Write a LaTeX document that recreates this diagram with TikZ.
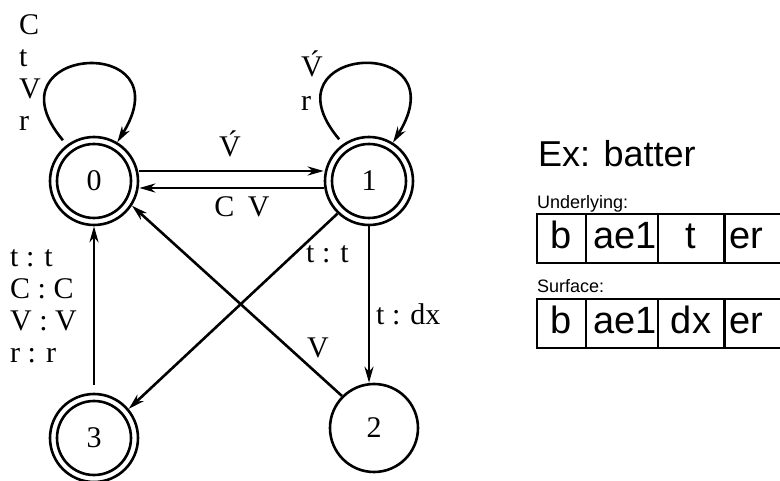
\documentclass[tikz,border=0pt]{standalone}
\usepackage{fontspec}
\setmainfont{Liberation Serif}
\newfontfamily\sansf{Liberation Sans}
\usetikzlibrary{arrows.meta}
\begin{document}
\begin{tikzpicture}[x=1pt,y=-1pt,
  every node/.style={inner sep=0pt},
  lbl/.style={font=\fontsize{30}{31.7}\selectfont},
  stateb/.style={circle,draw,line width=2.6pt,minimum size=88pt,inner sep=0pt,font=\fontsize{30}{32}\selectfont},
  acc/.style={path picture={\draw[line width=2.6pt] (path picture bounding box.center) circle[radius=37pt];}},
  arr/.style={line width=2.6pt,-{Stealth[length=16pt,width=9pt,inset=5pt]}},
  loopstyle/.style={arr,shorten <=6pt},
  cell/.style={draw,line width=1.5pt,minimum height=49pt,text height=25pt,text depth=5pt,font=\sansf\fontsize{38}{38}\selectfont},
  ]
\useasboundingbox (0,0) rectangle (780,481);
\clip (0,0) rectangle (780,481);

% states
\node[stateb,acc] (s0) at (94,181) {0};
\node[stateb,acc] (s1) at (369,181) {1};
\node[stateb] (s2) at (374,428) {2};
\node[stateb,acc] (s3) at (94,438) {3};

% loops
\draw[loopstyle] (s0.127) to[out=130,in=58,distance=130pt] (s0.59);
\draw[loopstyle] (s1.125) to[out=130,in=58,distance=130pt] (s1.58);

% edges
\draw[arr] ([yshift=10pt]s0.east) -- ([yshift=10pt]s1.west);
\draw[arr] ([yshift=-7pt]s1.west) -- ([yshift=-7pt]s0.east);
\draw[arr,shorten <=8pt] (s3.north) -- (s0.south);
\draw[arr] (s1.226) -- (s3.40);
\draw[arr] (s2.135) -- (s0.-33);
\draw[arr] (s1.south) -- (s1.south |- s2.north);

% labels
\node[lbl,anchor=base] (l01) at (230,157) {\'V};
\node[lbl,anchor=base] (l10) at (242,217) {C\hspace{0.45em}V};
\node[lbl,anchor=base west] (l12) at (376,325) {t : dx};
\node[lbl,anchor=base west] (l13) at (306,263) {t : t};
\node[lbl,anchor=base west] (l20) at (307,358) {V};
\node[lbl,anchor=base west] (l30) at (10,267) {\begin{tabular}[t]{@{}l@{}}t : t\\C : C\\V : V\\r : r\end{tabular}};
\node[lbl,anchor=base west] (l00) at (19,35) {\begin{tabular}[t]{@{}l@{}}C\\t\\V\\r\end{tabular}};
\node[lbl,anchor=base west] (l11) at (301,77) {\begin{tabular}[t]{@{}l@{}}\'V\\[2.3pt]r\end{tabular}};

% example
\node[font=\sansf\fontsize{36}{36}\selectfont,anchor=base west] (title) at (538,167) {Ex: batter};
\node[font=\sansf\fontsize{18}{18}\selectfont,anchor=base west] (ul) at (537,209) {Underlying:};
\node[font=\sansf\fontsize{18}{18}\selectfont,anchor=base west] (sl) at (537,293) {Surface:};

\node[cell,minimum width=49pt] (u1) at (561.5,238.5) {b};
\node[cell,minimum width=72pt] (u2) at (622,238.5) {\hspace{6pt}ae1};
\node[cell,minimum width=66pt] (u3) at (691,238.5) {t\hspace{8pt}};
\node[cell,text width=66pt,align=left,inner xsep=5pt,anchor=west] (u4) at (724,238.5) {er};

\node[cell,minimum width=49pt] (v1) at (561.5,323.5) {b};
\node[cell,minimum width=72pt] (v2) at (622,323.5) {\hspace{6pt}ae1};
\node[cell,minimum width=66pt] (v3) at (691,323.5) {dx};
\node[cell,text width=66pt,align=left,inner xsep=5pt,anchor=west] (v4) at (724,323.5) {er};
\end{tikzpicture}
\end{document}
